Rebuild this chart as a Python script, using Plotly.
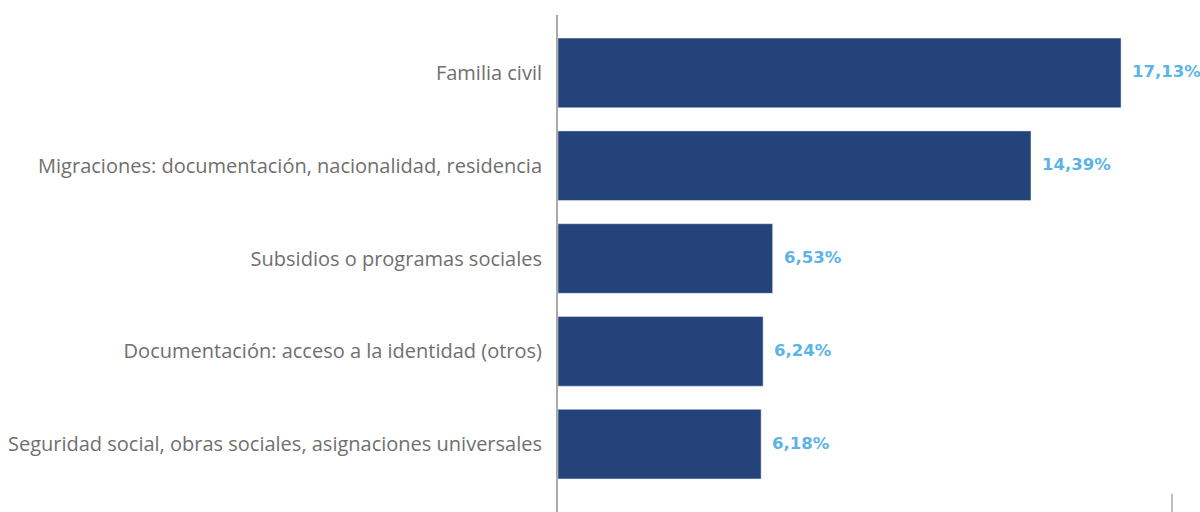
import plotly.graph_objects as go

categorias = [
    "Seguridad social, obras sociales, asignaciones universales",
    "Documentación: acceso a la identidad (otros)",
    "Subsidios o programas sociales",
    "Migraciones: documentación, nacionalidad, residencia",
    "Familia civil",
]
porcentajes = [6.18, 6.24, 6.53, 14.39, 17.13]
etiquetas = [f"{v:.2f}".replace(".", ",") + "%" for v in porcentajes]

AZUL = "#24437a"
CELESTE = "#5cb3e6"
GRIS = "#6f6f6f"

fig = go.Figure()
fig.add_trace(go.Bar(
    x=porcentajes, y=categorias, orientation="h",
    marker_color=AZUL, width=0.75, hoverinfo="skip",
))

# porcentajes a la derecha de cada barra
for cat, val, txt in zip(categorias, porcentajes, etiquetas):
    fig.add_annotation(
        x=val, y=cat, text=txt, showarrow=False,
        xanchor="left", xshift=9, yshift=1,
        font=dict(family="DejaVu Sans", size=16.5, color=CELESTE, weight="bold"),
    )

fig.update_layout(
    width=1200, height=512,
    margin=dict(l=558, r=28, t=15, b=0),
    plot_bgcolor="white", paper_bgcolor="white",
    showlegend=False,
    xaxis=dict(range=[0, 18.68], visible=False),
    yaxis=dict(
        range=[-0.731, 4.624], showgrid=False, showline=True,
        linecolor="#aaaaaa", linewidth=2, ticks="",
        ticklabelstandoff=10, automargin=False,
        tickfont=dict(family="Open Sans", size=20, color=GRIS),
    ),
    shapes=[dict(type="line", xref="paper", yref="paper",
                 x0=1, x1=1, y0=0, y1=0.036,
                 line=dict(color="#aaaaaa", width=1.5))],
)

# sin margen de página ni barras de desplazamiento
fig.write_html("out.html", config={"displayModeBar": False},
               post_script="document.body.style.margin='0';document.body.style.overflow='hidden';")
